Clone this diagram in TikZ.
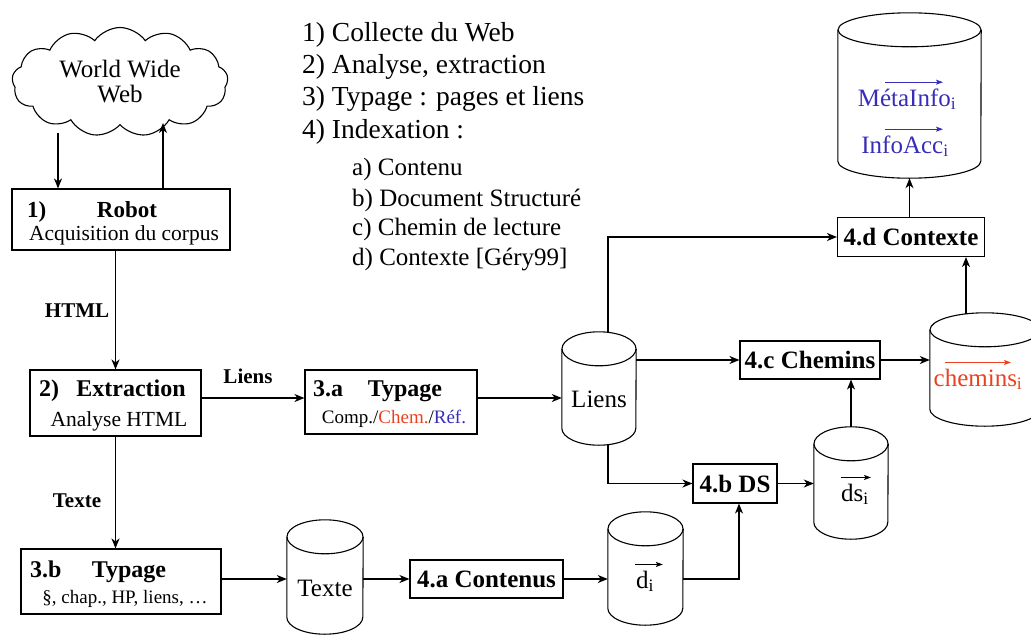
\documentclass[tikz,border=0pt]{standalone}
\usepackage{fontspec}
\setmainfont{Liberation Serif}
\usetikzlibrary{shapes.symbols,arrows.meta,calc}
\definecolor{vblue}{RGB}{55,45,185}
\definecolor{vred}{RGB}{235,65,30}
\newcommand\setfs[1]{\fontsize{#1}{#1}\selectfont}
\newcommand\cylry{17}
% name, center, width, height
\newcommand\mkcyl[4]{%
  \node[cylbody, minimum width=#3pt, minimum height=#4pt] (#1) at #2 {};
  \draw[ln] ($(#1.north west)+(0,\cylry)$) -- ($(#1.south west)+(0,-\cylry)$)
     arc[start angle=180, end angle=360, x radius=#3pt/2, y radius=\cylry pt]
     -- ($(#1.north east)+(0,\cylry)$);
  \draw[ln] ($(#1.north)+(0,\cylry)$) ellipse[x radius=#3pt/2, y radius=\cylry pt];
}
\begin{document}
\begin{tikzpicture}[x=1pt,y=-1pt,
  ln/.style={line width=1.1pt},
  arr/.style={line width=1.1pt, -{Stealth[length=10pt,width=8pt,inset=3pt]}},
  varr/.style={line width=1pt, -{Stealth[length=7pt,width=5pt,inset=1.5pt]}},
  box/.style={draw, line width=1.1pt, inner sep=0pt},
  cylbody/.style={inner sep=0pt, draw=none},
  txt/.style={inner sep=0pt},
  bt/.style={inner sep=0pt, anchor=base},
  btw/.style={inner sep=0pt, anchor=base west},
]
\useasboundingbox (0,0) rectangle (1031,635);

% legend
\node[btw] (l1) at (302,41) {\setfs{27.5}1) Collecte du Web};
\node[btw] (l2) at (302,73) {\setfs{27.5}2) Analyse, extraction};
\node[btw] (l3) at (302,105) {\setfs{27.5}3) Typage : pages et liens};
\node[btw] (l4) at (302,138) {\setfs{27.5}4) Indexation :};
\node[btw] (la) at (352,175) {\setfs{25}a) Contenu};
\node[btw] (lb) at (352,206) {\setfs{25}b) Document Structuré};
\node[btw] (lc) at (352,235) {\setfs{25}c) Chemin de lecture};
\node[btw] (ld) at (352,265) {\setfs{25}d) Contexte [Géry99]};

% cloud
\node[cloud, draw, ln, cloud puffs=13, cloud puff arc=110, cloud ignores aspect,
      minimum width=216pt, minimum height=109pt, align=center, inner sep=0pt,
      font=\fontsize{25}{25}\selectfont] (www) at (120,82)
      {World Wide\\Web};

% boxes
\node[box, minimum width=218pt, minimum height=61pt] (robot) at (121,219.5) {};
\node[btw] (robotn) at (27,217) {\setfs{23}\bfseries 1)};
\node[bt] (robott) at (127,217) {\setfs{23}\bfseries Robot};
\node[bt] (robots) at (124,240) {\setfs{21.5}Acquisition du corpus};

\node[box, minimum width=171pt, minimum height=66pt] (extr) at (115.5,403) {};
\node[btw] (extrn) at (39,396) {\setfs{24}\bfseries 2)};
\node[bt] (extrt) at (131,396) {\setfs{24}\bfseries Extraction};
\node[bt] (extrs) at (119,426) {\setfs{21.5}Analyse HTML};

\node[box, minimum width=172pt, minimum height=64pt] (typa) at (391,402) {};
\node[btw] (typan) at (313,396) {\setfs{24}\bfseries 3.a};
\node[bt] (typat) at (405,396) {\setfs{24}\bfseries Typage};
\node[bt] (typas) at (394,423) {\setfs{19}Comp./\textcolor{vred}{Chem.}/\textcolor{vblue}{Réf.}};

\node[box, minimum width=200pt, minimum height=65pt] (typb) at (121,581.5) {};
\node[btw] (typbn) at (30,577) {\setfs{24}\bfseries 3.b};
\node[bt] (typbt) at (129,577) {\setfs{24}\bfseries Typage};
\node[bt] (typbs) at (125,603) {\setfs{19}§, chap., HP, liens, …};

\node[box, minimum width=153pt, minimum height=38pt, font=\setfs{25}\bfseries] (conta) at (486.5,579) {4.a Contenus};
\node[box, minimum width=84pt, minimum height=39pt, font=\setfs{25}\bfseries] (dsb) at (735,483.5) {4.b DS};
\node[box, minimum width=140pt, minimum height=38pt, font=\setfs{25}\bfseries] (chc) at (810,360) {4.c Chemins};
\node[box, minimum width=147pt, minimum height=39pt, font=\setfs{25}\bfseries] (ctx) at (911,237) {4.d Contexte};

% cylinders
\mkcyl{texte}{(325,577)}{76}{114}
\node[bt] (textet) at (325,596) {\setfs{25}Texte};
\mkcyl{liens}{(599,388.5)}{74}{113}
\node[bt] (lienst) at (599,407) {\setfs{25}Liens};
\mkcyl{di}{(645.5,568.5)}{75}{113}
\node[bt] (dit) at (645,588) {\setfs{25}d\textsubscript{i}};
\mkcyl{dsi}{(851,483)}{74}{112}
\node[bt] (dsit) at (855,501) {\setfs{25}ds\textsubscript{i}};
\mkcyl{chm}{(985,369.5)}{110}{113}
\node[bt] (chmt) at (978,386) {\setfs{25}\color{vred}chemins\textsubscript{i}};
\mkcyl{meta}{(909.5,95.5)}{143}{165}
\node[bt] (metat) at (907,106) {\setfs{25}\color{vblue}MétaInfo\textsubscript{i}};
\node[bt] (infot) at (905,153) {\setfs{25}\color{vblue}InfoAcc\textsubscript{i}};

% vector arrows
\draw[varr] ($(dit.north west)+(-1,-6)$) -- ++(28,0);
\draw[varr] ($(dsit.north west)+(0,-6)$) -- ++(30,0);
\draw[varr, vred] ($(chmt.north)+(-33,-6)$) -- ++(66,0);
\draw[varr, vblue] ($(metat.north)+(-22,-6)$) -- ++(58,0);
\draw[varr, vblue] ($(infot.north)+(-20,-6)$) -- ++(58,0);

% labels
\node[bt] (lhtml) at (77,317) {\setfs{21}\bfseries HTML};
\node[bt] (lliens) at (248,383) {\setfs{21}\bfseries Liens};
\node[bt] (ltexte) at (77,507) {\setfs{21}\bfseries Texte};

% connectors
\coordinate (c1) at (58,133);
\coordinate (c2) at (163,123);
\coordinate (r1) at (0,398);
\coordinate (r3) at (0,579);
\coordinate (lx) at (608,0);
\coordinate (cx) at (966,0);
\coordinate (bx) at (739,0);
\draw[arr] (c1) -- (c1 |- robot.north);
\draw[arr] (c2 |- robot.north) -- (c2);
\draw[arr] (extr.north |- robot.south) -- (extr.north);
\draw[arr] (extr.east |- r1) -- (typa.west |- r1);
\draw[arr] (typa.east |- r1) -- (liens.west |- r1);
\draw[arr] (extr.south) -- (extr.south |- typb.north);
\draw[arr] (typb.east |- r3) -- (texte.west |- r3);
\draw[arr] (texte.east |- r3) -- (conta.west |- r3);
\draw[arr] (conta.east |- r3) -- (di.west |- r3);
\draw[arr] (di.east |- r3) -| (bx |- dsb.south);
\draw[arr] (liens.south -| lx) |- (dsb.west);
\draw[arr] (liens.east |- chc.west) -- (chc.west);
\draw[arr] ($(liens.north -| lx)+(0,1)$) |- (ctx.west);
\draw[arr] (dsb.east) -- (dsi.west |- dsb.east);
\draw[arr] (dsi.north) -- (dsi.north |- chc.south);
\draw[arr] (chc.east) -- (chm.west |- chc.east);
\draw[arr] ($(chm.north -| cx)+(0,1)$) -- (ctx.south -| cx);
\draw[arr] (ctx.north -| meta.south) -- (meta.south);
\end{tikzpicture}
\end{document}
